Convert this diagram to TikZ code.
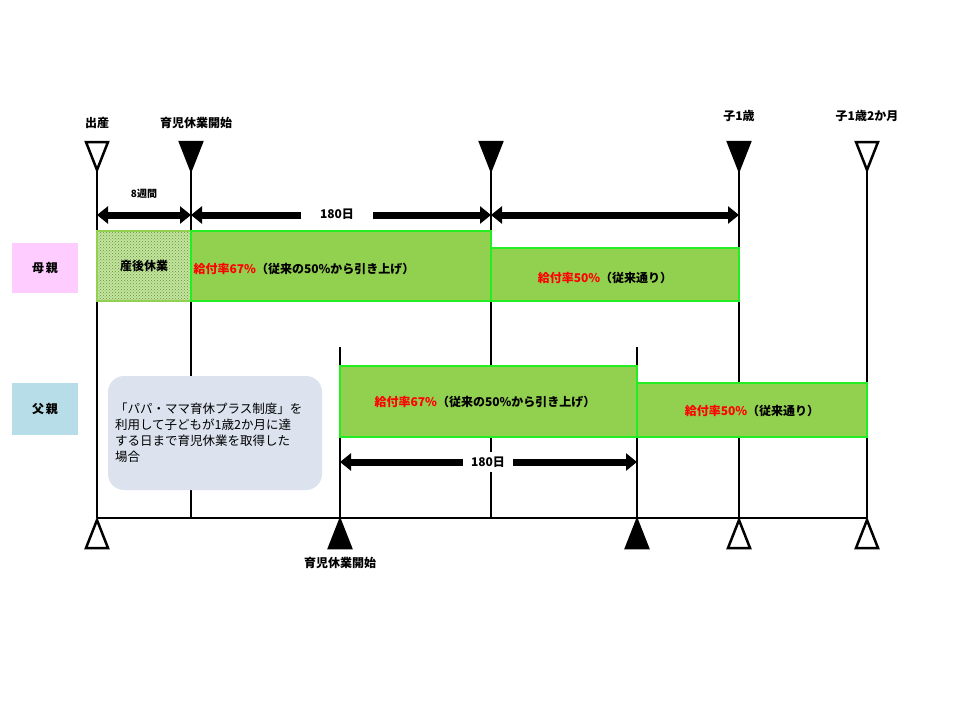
\documentclass[tikz,border=0pt]{standalone}
\usepackage{fontspec}
\setmainfont{Noto Sans CJK JP}
\usetikzlibrary{arrows.meta,patterns}
\definecolor{gfill}{HTML}{92D050}
\definecolor{gline}{HTML}{22EE22}
\definecolor{pinkb}{HTML}{FFCCFF}
\definecolor{blueb}{HTML}{B7DDE8}
\definecolor{noteb}{HTML}{DCE3EF}
\definecolor{redt}{HTML}{FF0000}
\tikzset{
 tl/.style={line width=2.5pt},
 dnopen/.style={draw,line width=2.5pt,fill=white},
 dnfill/.style={draw,line width=2.5pt,fill=black},
 gbox/.style={draw=gline,line width=2.5pt,fill=gfill},
 dbl/.style={line width=7pt,{Triangle[length=11pt,width=17pt]}-{Triangle[length=11pt,width=17pt]},shorten <=0pt,shorten >=0pt},
 lbl/.style={font=\bfseries\fontsize{12}{14}\selectfont,inner sep=1pt},
 gl/.style={font=\bfseries\fontsize{12}{14}\selectfont,text=black}
}
\begin{document}
\begin{tikzpicture}[x=1pt,y=-1pt]
\useasboundingbox (0,0) rectangle (960,720);
% coordinates
\foreach \n/\x in {a/97,b/191,c/491,d/739,e/867}{
  \coordinate (\n t) at (\x,170);
  \coordinate (\n b) at (\x,518);
}
\coordinate (ft) at (340,347); \coordinate (fb) at (340,518);
\coordinate (gt) at (637,347); \coordinate (gb) at (637,518);
% vertical lines
\foreach \n in {a,b,c,d,e,f,g}{\draw[tl] (\n t) -- (\n b);}
\draw[tl] (ab) -- (eb);
% side labels
\node[fill=pinkb,minimum width=66pt,minimum height=50pt,lbl] (mom) at (45,268) {母\,親};
\node[fill=blueb,minimum width=66pt,minimum height=52pt,lbl] (dad) at (45,409) {父\,親};
% mother boxes
\path[fill=gfill!55] (97,231) rectangle (191,301);
\path[pattern=crosshatch dots,pattern color=gfill!70!black] (97,231) rectangle (191,301);
\draw[draw=gfill,line width=2pt] (97,231) rectangle (191,301);
\node[lbl] (sango) at (144,266) {産後休業};
\draw[gbox] (191,231) rectangle (491,301);
\node[gl] (m1) at (304,269) {\textcolor{redt}{給付率67\%}（従来の50\%から引き上げ）};
\draw[gbox] (491,248) rectangle (739,301);
\node[gl] (m2) at (605,278) {\textcolor{redt}{給付率50\%}（従来通り）};
% father boxes
\draw[gbox] (340,366) rectangle (637,437);
\node[gl] (f1) at (485,402) {\textcolor{redt}{給付率67\%}（従来の50\%から引き上げ）};
\draw[gbox] (637,383) rectangle (867,437);
\node[gl] (f2) at (752,411) {\textcolor{redt}{給付率50\%}（従来通り）};
% note
\node[fill=noteb,rounded corners=16pt,minimum width=214pt,minimum height=114pt,align=left,font=\fontsize{12.5}{16}\selectfont,text width=200pt] (note) at (215,433) {「パパ・ママ育休プラス制度」を\\利用して子どもが1歳2か月に達\\する日まで育児休業を取得した\\場合};
% arrows
\coordinate (a1) at (97,215); \coordinate (b1) at (191,215);
\coordinate (c1) at (491,215); \coordinate (d1) at (739,215);
\draw[dbl] (a1) -- (b1);
\draw[dbl] (b1) -- (c1);
\draw[dbl] (c1) -- (d1);
\node[lbl,font=\bfseries\fontsize{10}{12}\selectfont] (w8) at (144,194) {8週間};
\node[lbl,fill=white,minimum width=72pt,minimum height=14pt] (d180) at (337,214) {180日};
\coordinate (f1a) at (340,462); \coordinate (g1a) at (637,462);
\draw[dbl] (f1a) -- (g1a);
\node[lbl,fill=white,minimum width=50pt,minimum height=20pt] (d180b) at (488,462) {180日};
% top triangles
\draw[dnopen] (86,142) -- (108,142) -- (97,170) -- cycle;
\draw[dnfill] (180,142) -- (202,142) -- (191,170) -- cycle;
\draw[dnfill] (480,142) -- (502,142) -- (491,170) -- cycle;
\draw[dnfill] (728,142) -- (750,142) -- (739,170) -- cycle;
\draw[dnopen] (856,142) -- (878,142) -- (867,170) -- cycle;
% bottom triangles
\draw[dnopen] (86,548) -- (108,548) -- (97,520) -- cycle;
\draw[dnfill] (329,548) -- (351,548) -- (340,520) -- cycle;
\draw[dnfill] (626,548) -- (648,548) -- (637,520) -- cycle;
\draw[dnopen] (728,548) -- (750,548) -- (739,520) -- cycle;
\draw[dnopen] (856,548) -- (878,548) -- (867,520) -- cycle;
% labels
\node[lbl] (l1) at (97,123) {出産};
\node[lbl] (l2) at (196,123) {育児休業開始};
\node[lbl] (l3) at (739,116) {子1歳};
\node[lbl] (l4) at (867,116) {子1歳2か月};
\node[lbl] (l5) at (340,563) {育児休業開始};
\end{tikzpicture}
\end{document}
